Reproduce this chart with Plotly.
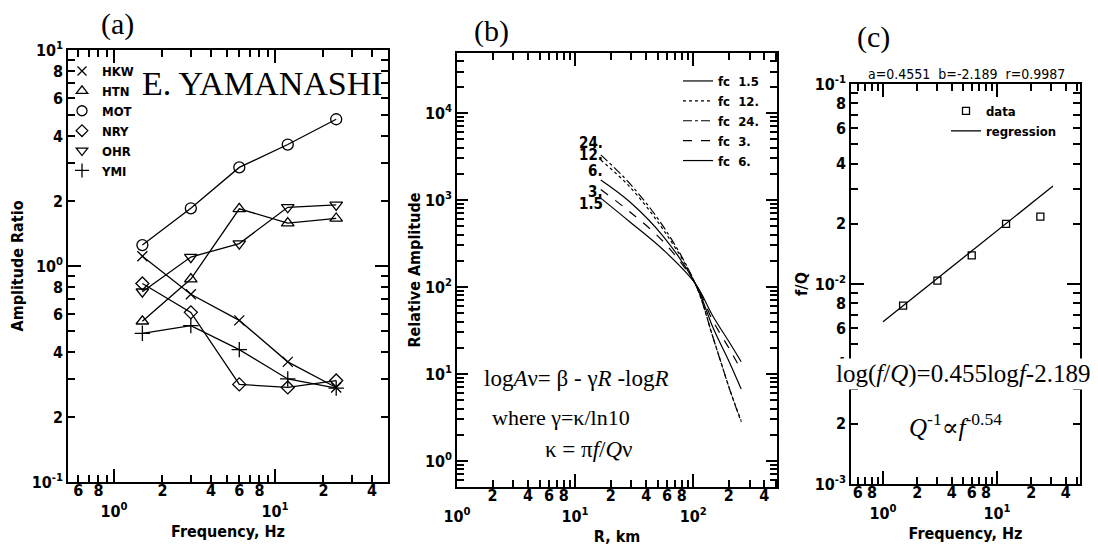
import math
import plotly.graph_objects as go

# ---------------- data ----------------
# (a) amplitude ratio vs frequency
freq = [1.5, 3, 6, 12, 24]
ratio_HKW = [1.11, 0.74, 0.56, 0.36, 0.274]
ratio_HTN = [0.555, 0.87, 1.84, 1.58, 1.66]
ratio_MOT = [1.25, 1.85, 2.86, 3.65, 4.78]
ratio_NRY = [0.83, 0.61, 0.283, 0.274, 0.295]
ratio_OHR = [0.76, 1.10, 1.27, 1.87, 1.92]
ratio_YMI = [0.488, 0.53, 0.41, 0.30, 0.272]

# (b) relative amplitude vs distance
R_km = [16.5, 29, 56, 104, 148, 205, 255]
amp_fc1_5 = [1050, 562, 266, 110, 45.5, 22.5, 13.8]
amp_fc3 = [1320, 733, 331, 110, 40, 18.9, 11.1]
amp_fc6 = [1700, 955, 380, 110, 33.5, 13.2, 6.7]
amp_fc12 = [2880, 1420, 452, 110, 25.7, 6.5, 2.9]
amp_fc24 = [3300, 1550, 493, 110, 25.7, 6.5, 2.8]

# (c) f/Q vs frequency
freq_c = [1.5, 3, 6, 12, 24]
fQ_data = [0.0078, 0.0104, 0.0139, 0.0200, 0.0217]
reg_freq = [1.0, 31.0]
reg_fQ = [0.00647, 0.0309]

# tick labels
ax_vals = [0.6, 0.8, 1, 2, 4, 6, 8, 10, 20, 40]
ax_text = ['6', '8', '<br>10<sup>0</sup>', '2', '4', '6', '8', '<br>10<sup>1</sup>', '2', '4']
ax_minor = [0.7, 0.9, 3, 5, 7, 9, 30, 50]
ax_decades = [1, 10]
ay_vals = [0.1, 0.2, 0.4, 0.6, 0.8, 1, 2, 4, 6, 8, 10]
ay_text = ['10<sup>-1</sup>', '2', '4', '6', '8', '10<sup>0</sup>', '2', '4', '6', '8', '10<sup>1</sup>']
ay_minor = [0.3, 0.5, 0.7, 0.9, 3, 5, 7, 9]
ay_decades = [1]
bx_vals = [1, 2, 4, 6, 8, 10, 20, 40, 60, 80, 100, 200, 400]
bx_text = ['<br>10<sup>0</sup>', '2', '4', '6', '8', '<br>10<sup>1</sup>', '2', '4', '6', '8',
           '<br>10<sup>2</sup>', '2', '4']
bx_minor = [3, 5, 7, 9, 30, 50, 70, 90, 300, 500]
bx_decades = [1, 10, 100]
by_vals = [1, 10, 100, 1000, 10000]
by_text = ['10<sup>0</sup>', '10<sup>1</sup>', '10<sup>2</sup>', '10<sup>3</sup>', '10<sup>4</sup>']
by_minor = [m * d for d in [0.1, 1, 10, 100, 1000, 10000] for m in range(2, 10)]
by_decades = [1, 10, 100, 1000, 10000]
cy_vals = [0.001, 0.002, 0.004, 0.006, 0.008, 0.01, 0.02, 0.04, 0.06, 0.08, 0.1]
cy_text = ['10<sup>-3</sup>', '2', '4', '6', '8', '10<sup>-2</sup>', '2', '4', '6', '8', '10<sup>-1</sup>']
cy_minor = [0.003, 0.005, 0.007, 0.009, 0.03, 0.05, 0.07, 0.09]
cy_decades = [0.01]

# ---------------- styling ----------------
NARROW = "Liberation Sans Narrow, DejaVu Sans Condensed, Arial Narrow, sans-serif"
SERIF = "Liberation Serif, Times New Roman, DejaVu Serif, serif"
TICKF = dict(family=NARROW, size=16, color='black', weight='bold')
TITLEF = dict(family=NARROW, size=16, color='black', weight='bold')
LW = 1.3
TW = 1.5

# page coordinates (the html body adds an 8 px offset)
OFF = 8
W, H = 1090, 542
PX = lambda x: (x - OFF) / W
PY = lambda y: 1 - (y - OFF) / H
dom_x = lambda a, b: [PX(a), PX(b)]
dom_y = lambda top, bot: [PY(bot), PY(top)]

fig = go.Figure()

# (a)
station_style = [
    ("HKW", ratio_HKW, 'x-thin-open', 10),
    ("HTN", ratio_HTN, 'triangle-up-open', 11),
    ("MOT", ratio_MOT, 'circle-open', 11),
    ("NRY", ratio_NRY, 'diamond-open', 10),
    ("OHR", ratio_OHR, 'triangle-down-open', 11),
    ("YMI", ratio_YMI, 'cross-thin-open', 11),
]
for name, vals, sym, sz in station_style:
    fig.add_trace(go.Scatter(x=freq, y=vals, mode='lines+markers', xaxis='x', yaxis='y',
                             line=dict(color='black', width=LW),
                             marker=dict(symbol=sym, size=sz, color='black',
                                         line=dict(color='black', width=1.3)),
                             showlegend=False))
for name, vals, sym, sz in station_style:
    fig.add_trace(go.Scatter(x=[None], y=[None], mode='markers', xaxis='x', yaxis='y',
                             name=name, legend='legend',
                             marker=dict(symbol=sym, size=sz - 1, color='black',
                                         line=dict(color='black', width=1.3))))

# (b)
curves = [
    ("1.5", amp_fc1_5, 'solid'),
    ("12.", amp_fc12, 'dot'),
    ("24.", amp_fc24, 'dashdot'),
    ("3.", amp_fc3, 'dash'),
    ("6.", amp_fc6, 'solid'),
]
for lab, vals, dash in curves:
    fig.add_trace(go.Scatter(x=R_km, y=vals, mode='lines', xaxis='x2', yaxis='y2',
                             line=dict(color='black', width=1.2, dash=dash, shape='spline'),
                             name='fc  ' + lab, legend='legend2'))

# (c)
fig.add_trace(go.Scatter(x=freq_c, y=fQ_data, mode='markers', xaxis='x3', yaxis='y3',
                         name='data', legend='legend3',
                         marker=dict(symbol='square-open', size=7, color='black',
                                     line=dict(color='black', width=1.3))))
fig.add_trace(go.Scatter(x=reg_freq, y=reg_fQ, mode='lines', xaxis='x3', yaxis='y3',
                         name='regression', legend='legend3',
                         line=dict(color='black', width=1.3)))

# invisible traces that activate the long decade-tick overlay axes
for xa, ya in [('x4', 'y'), ('x', 'y4'), ('x5', 'y2'), ('x2', 'y5'), ('x6', 'y3'), ('x3', 'y6')]:
    fig.add_trace(go.Scatter(x=[None], y=[None], mode='lines', xaxis=xa, yaxis=ya,
                             showlegend=False, hoverinfo='skip'))


def axis(domain, anchor, rng, vals, text, minor, title, standoff, is_x):
    d = dict(domain=domain, anchor=anchor, type='log', range=rng, automargin=False,
             showline=True, linecolor='black', linewidth=1.5, mirror='ticks',
             ticks='inside', ticklen=7, tickwidth=TW, tickcolor='black',
             tickmode='array', tickvals=vals, ticktext=text, tickfont=TICKF,
             minor=dict(ticks='inside', ticklen=7, tickwidth=TW, tickcolor='black',
                        tickmode='array', tickvals=minor, showgrid=False),
             showgrid=False, zeroline=False,
             title=dict(text=title, font=TITLEF, standoff=standoff))
    if is_x:
        d['tickangle'] = 0
        d['ticklabelstandoff'] = -7
    return d


def decade_axis(domain, anchor, over, rng, decades, length):
    return dict(domain=domain, anchor=anchor, overlaying=over, type='log', range=rng,
                automargin=False, showline=False, mirror='ticks', ticks='inside',
                ticklen=length, tickwidth=TW, tickcolor='black', tickmode='array',
                tickvals=decades, showticklabels=False, showgrid=False, zeroline=False)


ax_dom, ay_dom = dom_x(68, 388), dom_y(50, 482)
bx_dom, by_dom = dom_x(457, 777), dom_y(53, 487)
cx_dom, cy_dom = dom_x(851, 1080), dom_y(84, 484)
ax_rng, ay_rng = [-0.286, 1.702], [-1, 1]
bx_rng, by_rng = [0, 2.71], [-0.30, 4.69]
cx_rng, cy_rng = [-0.281, 1.728], [-3, -1]

LEGF = dict(family=NARROW, size=13, color='black', weight='bold')
fig.update_layout(
    width=W, height=H, margin=dict(l=0, r=0, t=0, b=0, autoexpand=False),
    paper_bgcolor='white', plot_bgcolor='white',
    xaxis=axis(ax_dom, 'y', ax_rng, ax_vals, ax_text, ax_minor, 'Frequency, Hz', 6, True),
    yaxis=axis(ay_dom, 'x', ay_rng, ay_vals, ay_text, ay_minor, 'Amplitude Ratio', 10, False),
    xaxis2=axis(bx_dom, 'y2', bx_rng, bx_vals, bx_text, bx_minor, 'R, km', 6, True),
    yaxis2=axis(by_dom, 'x2', by_rng, by_vals, by_text, by_minor, 'Relative Amplitude', 0, False),
    xaxis3=axis(cx_dom, 'y3', cx_rng, ax_vals, ax_text, ax_minor, 'Frequency, Hz', 6, True),
    yaxis3=axis(cy_dom, 'x3', cy_rng, cy_vals, cy_text, cy_minor, 'f/Q', 3, False),
    xaxis4=decade_axis(ax_dom, 'y', 'x', ax_rng, ax_decades, 13),
    yaxis4=decade_axis(ay_dom, 'x', 'y', ay_rng, ay_decades, 13),
    xaxis5=decade_axis(bx_dom, 'y2', 'x2', bx_rng, bx_decades, 13),
    yaxis5=decade_axis(by_dom, 'x2', 'y2', by_rng, by_decades, 11),
    xaxis6=decade_axis(cx_dom, 'y3', 'x3', cx_rng, ax_decades, 13),
    yaxis6=decade_axis(cy_dom, 'x3', 'y3', cy_rng, cy_decades, 13),
    legend=dict(x=PX(62), y=PY(56), xanchor='left', yanchor='top', bgcolor='rgba(0,0,0,0)',
                font=LEGF, tracegroupgap=0),
    legend2=dict(x=PX(678), y=PY(66), xanchor='left', yanchor='top', bgcolor='rgba(0,0,0,0)',
                 font=LEGF, tracegroupgap=0),
    legend3=dict(x=PX(946), y=PY(96), xanchor='left', yanchor='top', bgcolor='rgba(0,0,0,0)',
                 font=LEGF, tracegroupgap=0),
)

ann = []


def note(text, x, y, size, family=SERIF, anchor='center', **kw):
    d = dict(text=text, x=PX(x), y=PY(y), xref='paper', yref='paper', showarrow=False,
             font=dict(family=family, size=size, color='black'), xanchor=anchor, yanchor='middle')
    d.update(kw)
    ann.append(d)


note('(a)', 117, 24, 30)
note('(b)', 491, 31, 30)
note('(c)', 873, 37, 30)
note('E. YAMANASHI', 262, 83, 34)
note('a=0.4551  b=-2.189  r=0.9987', 966, 74, 14, family=NARROW)
note('log<i>A</i>ν= β - γ<i>R</i> -log<i>R</i>', 482, 378, 23, anchor='left')
note('where γ=κ/ln10', 490, 417, 22, anchor='left')
note('κ = π<i>f</i>/<i>Q</i>ν', 543, 450, 23, anchor='left')
note('log(<i>f</i>/<i>Q</i>)=0.455log<i>f</i>-2.189', 834, 374, 25, anchor='left', bgcolor='white')
note('<i>Q</i><sup>-1</sup>∝<i>f</i><sup>-0.54</sup>', 907, 425, 25, anchor='left')

# curve labels at the start of each curve in (b)
label_shift = {"24.": 12, "12.": 5, "6.": 9, "3.": -2, "1.5": -6}
for lab, vals, dash in curves:
    ann.append(dict(text=lab, x=math.log10(R_km[0]), y=math.log10(vals[0]),
                    xref='x2', yref='y2', showarrow=False, xanchor='right', yanchor='middle',
                    xshift=4, yshift=label_shift[lab],
                    font=dict(family=NARROW, size=15, color='black', weight='bold')))

fig.update_layout(annotations=ann)
fig.write_html("out.html")
